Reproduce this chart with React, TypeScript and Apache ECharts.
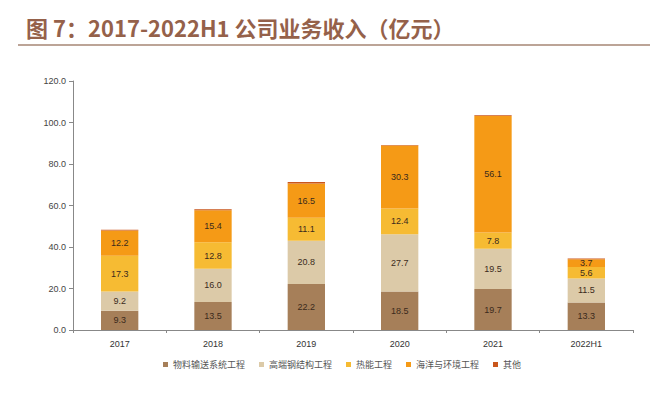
import React, { useEffect, useRef } from "react";
import * as echarts from "echarts";

const categories = ["2017", "2018", "2019", "2020", "2021", "2022H1"];
const seriesNames = ["物料输送系统工程", "高端钢结构工程", "热能工程", "海洋与环境工程", "其他"];
const material = [9.3, 13.5, 22.2, 18.5, 19.7, 13.3];
const steel = [9.2, 16.0, 20.8, 27.7, 19.5, 11.5];
const thermal = [17.3, 12.8, 11.1, 12.4, 7.8, 5.6];
const marine = [12.2, 15.4, 16.5, 30.3, 56.1, 3.7];
const other = [0.3, 0.5, 0.7, 0.3, 0.4, 0.3];
const yTicks = [0, 20, 40, 60, 80, 100, 120];

const colors = ["#a67f59", "#dccaa8", "#f6bb33", "#f59a16", "#c9561c"];

export default function App() {
  const ref = useRef<HTMLDivElement>(null);
  useEffect(() => {
    const chart = echarts.init(ref.current!, null, { renderer: "svg" });
    const data = [material, steel, thermal, marine, other];
    chart.setOption({
      animation: false,
      backgroundColor: "#ffffff",
      textStyle: { fontFamily: "Liberation Sans, Arial, sans-serif" },
      title: {
        text: "图 7：2017-2022H1 公司业务收入（亿元）",
        left: 21,
        top: 11,
        textStyle: {
          fontSize: 22,
          fontWeight: "bold",
          color: "#95614a",
          fontFamily: "Noto Sans CJK SC, sans-serif",
        },
      },
      graphic: [
        {
          type: "line",
          shape: { x1: 18, y1: 45, x2: 650, y2: 45 },
          style: { stroke: "#7a4a30", lineWidth: 1.2 },
        },
      ],
      grid: { left: 73, right: 17, top: 81, bottom: 70 },
      legend: {
        bottom: 26,
        left: 158,
        itemWidth: 5,
        itemHeight: 5,
        itemGap: 14,
        icon: "rect",
        textStyle: { fontSize: 9, color: "#555", fontFamily: "Noto Sans CJK SC, sans-serif" },
        data: seriesNames,
      },
      xAxis: {
        type: "category",
        data: categories,
        axisLine: { lineStyle: { color: "#888" } },
        axisTick: { show: true, alignWithLabel: false, length: 3, lineStyle: { color: "#888" } },
        axisLabel: { fontSize: 9, color: "#333", margin: 9 },
      },
      yAxis: {
        type: "value",
        min: 0,
        max: 120,
        interval: 20,
        axisLine: { show: true, lineStyle: { color: "#888" } },
        axisTick: { show: true, length: 4, lineStyle: { color: "#888" } },
        splitLine: { show: false },
        axisLabel: {
          fontSize: 9,
          color: "#444",
          margin: 7,
          formatter: (v: number) => (yTicks.includes(v) ? v.toFixed(1) : ""),
        },
      },
      series: seriesNames.map((name, i) => ({
        name,
        type: "bar",
        stack: "total",
        barWidth: "40%",
        data: data[i],
        itemStyle: { color: colors[i] },
        label: {
          show: i < 4,
          position: "inside",
          fontSize: 9,
          color: "#3b2a1c",
          formatter: (p: any) => p.value.toFixed(1),
        },
      })),
    });
    return () => chart.dispose();
  }, []);
  return (
    <div
      ref={ref}
      style={{ position: "absolute", left: 0, top: 0, width: 650, height: 400 }}
    />
  );
}
